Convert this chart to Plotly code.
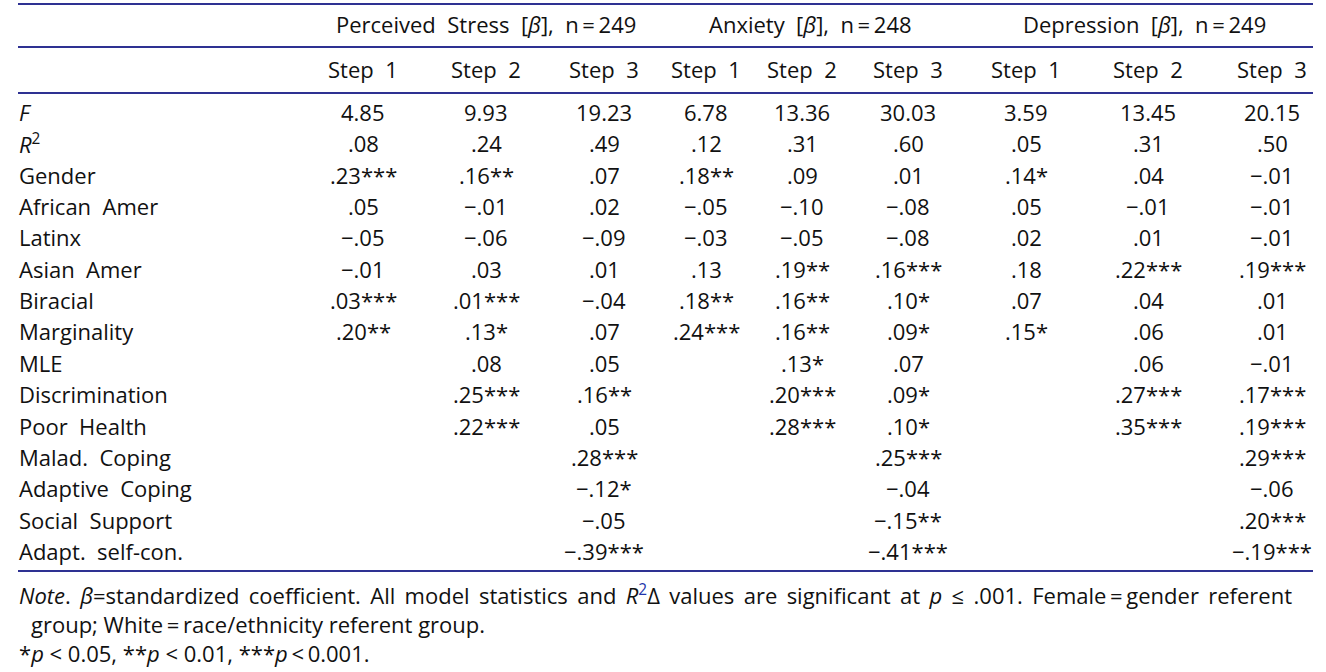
import plotly.graph_objects as go

# ---------------- data ----------------
row_labels = ["<i>F</i>", "<i>R</i><sup>2</sup>", "Gender", "African  Amer", "Latinx", "Asian  Amer",
              "Biracial", "Marginality", "MLE", "Discrimination", "Poor  Health",
              "Malad.  Coping", "Adaptive  Coping", "Social  Support", "Adapt.  self-con."]

group_labels = ["Perceived  Stress  [<i>β</i>],  n\u2009=\u2009249",
                "Anxiety  [<i>β</i>],  n\u2009=\u2009248",
                "Depression  [<i>β</i>],  n\u2009=\u2009249"]
step_labels = ["Step  1", "Step  2", "Step  3"]

# F statistics and R^2 per model (PS1, PS2, PS3, ANX1, ANX2, ANX3, DEP1, DEP2, DEP3)
f_values = [4.85, 9.93, 19.23, 6.78, 13.36, 30.03, 3.59, 13.45, 20.15]
r2_values = [0.08, 0.24, 0.49, 0.12, 0.31, 0.60, 0.05, 0.31, 0.50]

# standardized betas, rows Gender .. Adapt. self-con.  (None = not in model)
ps_step1 = [0.23, 0.05, -0.05, -0.01, 0.03, 0.20, None, None, None, None, None, None, None]
ps_step2 = [0.16, -0.01, -0.06, 0.03, 0.01, 0.13, 0.08, 0.25, 0.22, None, None, None, None]
ps_step3 = [0.07, 0.02, -0.09, 0.01, -0.04, 0.07, 0.05, 0.16, 0.05, 0.28, -0.12, -0.05, -0.39]
anx_step1 = [0.18, -0.05, -0.03, 0.13, 0.18, 0.24, None, None, None, None, None, None, None]
anx_step2 = [0.09, -0.10, -0.05, 0.19, 0.16, 0.16, 0.13, 0.20, 0.28, None, None, None, None]
anx_step3 = [0.01, -0.08, -0.08, 0.16, 0.10, 0.09, 0.07, 0.09, 0.10, 0.25, -0.04, -0.15, -0.41]
dep_step1 = [0.14, 0.05, 0.02, 0.18, 0.07, 0.15, None, None, None, None, None, None, None]
dep_step2 = [0.04, -0.01, 0.01, 0.22, 0.04, 0.06, 0.06, 0.27, 0.35, None, None, None, None]
dep_step3 = [-0.01, -0.01, -0.01, 0.19, 0.01, 0.01, -0.01, 0.17, 0.19, 0.29, -0.06, 0.20, -0.19]

# significance stars
ps_stars1 = ["***", "", "", "", "***", "**", "", "", "", "", "", "", ""]
ps_stars2 = ["**", "", "", "", "***", "*", "", "***", "***", "", "", "", ""]
ps_stars3 = ["", "", "", "", "", "", "", "**", "", "***", "*", "", "***"]
anx_stars1 = ["**", "", "", "", "**", "***", "", "", "", "", "", "", ""]
anx_stars2 = ["", "", "", "**", "**", "**", "*", "***", "***", "", "", "", ""]
anx_stars3 = ["", "", "", "***", "*", "*", "", "*", "*", "***", "", "**", "***"]
dep_stars1 = ["*", "", "", "", "", "*", "", "", "", "", "", "", ""]
dep_stars2 = ["", "", "", "***", "", "", "", "***", "***", "", "", "", ""]
dep_stars3 = ["", "", "", "***", "", "", "", "***", "***", "***", "", "***", "***"]

note_words = ["<i>Note</i>.", "<i>β</i>=standardized", "coefficient.", "All", "model", "statistics",
              "and", "<i>R</i><sup><span style='color:#2233aa'>2</span></sup>Δ", "values", "are",
              "significant", "at", "<i>p</i>", "≤", ".001.", "Female\u2009=\u2009gender", "referent"]
note_line2 = "group; White\u2009=\u2009race/ethnicity referent group."
note_line3 = "*<i>p</i> < 0.05, **<i>p</i> < 0.01, ***<i>p</i>\u2009<\u20090.001."

betas = [ps_step1, ps_step2, ps_step3, anx_step1, anx_step2, anx_step3, dep_step1, dep_step2, dep_step3]
stars = [ps_stars1, ps_stars2, ps_stars3, anx_stars1, anx_stars2, anx_stars3, dep_stars1, dep_stars2, dep_stars3]

# ---------------- layout constants ----------------
W, H = 1326, 672
FONT = "Open Sans"
FS = 22
TXT = "#111111"
RULE = "#2e3192"
LABEL_X = 18
COL_X = [363, 486, 604, 706, 802, 908, 1026, 1148, 1272]
GROUP_X = [486, 810, 1144]
HEAD_Y = 24
STEP_Y = 69
ROW_Y0 = 112
ROW_PITCH = 31.35
RULES_Y = [4, 47, 93, 571]
RULE_X = (18, 1313)
NOTE_Y = [594, 624, 653]
NOTE_X = [18, 30, 18]
JUSTIFY_GAP = " \u2009"   # widened word gap: first note line is justified to the full width


def fmt_beta(v):
    s = f"{abs(v):.2f}".lstrip("0")
    return ("\u2212" if v < 0 else "") + s


ann = []


def add(x, y, text, anchor="center", size=FS):
    ann.append(dict(x=x, y=y, xref="x", yref="y", text=text, showarrow=False,
                    xanchor=anchor, yanchor="middle", borderpad=0,
                    font=dict(family=FONT, size=size, color=TXT)))


for gx, g in zip(GROUP_X, group_labels):
    add(gx, HEAD_Y, g)
for i, cx in enumerate(COL_X):
    add(cx, STEP_Y, step_labels[i % 3])

for r, lab in enumerate(row_labels):
    add(LABEL_X, ROW_Y0 + r * ROW_PITCH, lab, anchor="left")

for c, cx in enumerate(COL_X):
    add(cx, ROW_Y0, f"{f_values[c]:.2f}")
    add(cx, ROW_Y0 + ROW_PITCH, fmt_beta(r2_values[c]))
    for r, v in enumerate(betas[c]):
        if v is None:
            continue
        add(cx, ROW_Y0 + (r + 2) * ROW_PITCH, fmt_beta(v) + stars[c][r])

note_lines = [JUSTIFY_GAP.join(note_words), note_line2, note_line3]
for nx, ny, t in zip(NOTE_X, NOTE_Y, note_lines):
    add(nx, ny, t, anchor="left")

shapes = [dict(type="line", xref="x", yref="y", x0=RULE_X[0], x1=RULE_X[1], y0=y, y1=y,
               line=dict(color=RULE, width=2)) for y in RULES_Y]

fig = go.Figure()
fig.add_trace(go.Scatter(x=[0, W], y=[0, H], mode="markers", marker=dict(opacity=0),
                         hoverinfo="skip", showlegend=False))
fig.update_layout(
    width=W, height=H, margin=dict(l=0, r=0, t=0, b=0),
    paper_bgcolor="white", plot_bgcolor="white",
    xaxis=dict(range=[0, W], visible=False, fixedrange=True),
    yaxis=dict(range=[H, 0], visible=False, fixedrange=True),
    annotations=ann, shapes=shapes, showlegend=False,
)
fig.write_html("out.html", config={"displayModeBar": False, "staticPlot": True},
               post_script="document.body.style.margin='0px';document.body.style.overflow='hidden';")
